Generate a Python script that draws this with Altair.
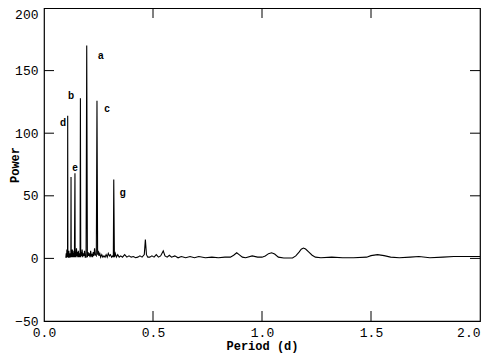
import altair as alt
import pandas as pd

period = [0.100, 0.102, 0.1035, 0.105, 0.1065, 0.1080, 0.1087, 0.1095, 0.1110, 0.1125,
          0.1140, 0.1155, 0.1170, 0.1185, 0.1200, 0.1232, 0.1240, 0.1248, 0.1265, 0.1280,
          0.1300, 0.1315, 0.1330, 0.1350, 0.1370, 0.1395, 0.1420, 0.1430, 0.1450, 0.1470,
          0.1490, 0.1510, 0.1530, 0.1550, 0.1575, 0.1600, 0.1625, 0.1655, 0.1670, 0.1685,
          0.1710, 0.1730, 0.1750, 0.1775, 0.1800, 0.1830, 0.1860, 0.1890, 0.1930, 0.1960,
          0.1990, 0.2020, 0.2050, 0.2080, 0.2110, 0.2140, 0.2170, 0.2200, 0.2230, 0.2260,
          0.2290, 0.2320, 0.2350, 0.2400, 0.2430, 0.2460, 0.2490, 0.2520, 0.2560, 0.2600,
          0.2650, 0.2700, 0.2750, 0.2800, 0.2850, 0.2900, 0.2950, 0.3000, 0.3050, 0.3100,
          0.3150, 0.3180, 0.3200, 0.3230, 0.3270, 0.3320, 0.3380, 0.3450, 0.3520, 0.3600,
          0.3700, 0.3800, 0.3900, 0.4000, 0.4100, 0.4200, 0.4300, 0.4400, 0.4500, 0.4600,
          0.4650, 0.4700, 0.4760, 0.4850, 0.4950, 0.5050, 0.5150, 0.5250, 0.5350, 0.5470,
          0.5550, 0.5650, 0.5750, 0.5850, 0.6000, 0.6150, 0.6300, 0.6500, 0.6700, 0.6900,
          0.7100, 0.7400, 0.7700, 0.8000, 0.8300, 0.8550, 0.8700, 0.8840, 0.8950, 0.9100,
          0.9250, 0.9550, 0.9800, 1.0000, 1.0150, 1.0300, 1.0440, 1.0580, 1.0750, 1.1000,
          1.1400, 1.1550, 1.1700, 1.1800, 1.1900, 1.2000, 1.2150, 1.2300, 1.2450, 1.2700,
          1.3200, 1.3700, 1.4200, 1.4800, 1.5000, 1.5300, 1.5600, 1.5900, 1.6300, 1.6800,
          1.7200, 1.7700, 1.8300, 1.8800, 1.9500, 2.0000]
power = [0.5, 4, 0.5, 7, 1, 2, 114, 1, 5, 0.5,
         6, 1, 3, 0.5, 4, 1, 65, 1, 5, 1,
         7, 1, 4, 1, 6, 1, 68, 1, 5, 1,
         8, 2, 5, 1, 6, 1, 4, 1, 128, 1,
         5, 2, 7, 1, 4, 2, 6, 1, 1, 170,
         1, 5, 2, 4, 1, 6, 2, 3, 1, 5,
         2, 8, 3, 2, 126, 3, 6, 2, 4, 1,
         3, 1, 2, 1, 3, 1, 4, 2, 3, 1,
         2, 1, 63, 1, 4, 1, 3, 1, 2, 1,
         3, 1, 2, 1, 1.5, 0.5, 1, 2, 1, 3,
         15, 3, 1, 1, 2, 1, 3, 1, 2, 6,
         2, 1, 2.5, 1, 2, 0.5, 1.5, 0.5, 1.5, 0.5,
         1.5, 0.5, 1, 0.5, 1, 1, 2.5, 4.5, 3, 1,
         0.5, 2, 1, 1, 2, 3.8, 4.5, 3.5, 1, 0.3,
         0.3, 2, 5, 7.3, 8.3, 7.5, 5, 2.5, 1, 0.5,
         1, 0.5, 0.5, 1, 2.2, 3, 2.2, 1, 0.5, 1,
         1.5, 0.5, 1, 1.5, 1.5, 1.5]

label_text = ["a", "b", "c", "d", "e", "g"]
label_period = [0.261, 0.124, 0.289, 0.087, 0.142, 0.362]
label_power = [162, 130, 119, 108, 72, 52]

x_tick_vals = [0.5, 1.0, 1.5]
y_tick_vals = [0, 50, 100, 150]
x_label_vals = [0.0, 0.5, 1.0, 1.5, 2.0]
y_label_vals = [-50, 0, 50, 100, 150, 200]

W, H = 436, 313
FONT = "Liberation Mono"

df = pd.DataFrame({"period": period, "power": power})
lab = pd.DataFrame({"t": label_text, "period": label_period, "power": label_power})
xt = pd.DataFrame({"period": x_tick_vals})
yt = pd.DataFrame({"power": y_tick_vals})

xs = alt.Scale(domain=[0, 2], nice=False, zero=False)
ys = alt.Scale(domain=[-50, 200], nice=False, zero=False)

x_axis = alt.Axis(values=x_label_vals, format=".1f", title="Period (d)",
                  ticks=False, grid=False, domain=False,
                  labelFont=FONT, labelFontSize=13, labelColor="black",
                  labelPadding=5, labelFlush=False,
                  labelAlign={"condition": {"test": "datum.value == 2", "value": "right"},
                              "value": "center"},
                  titleFont=FONT, titleFontSize=12, titleFontWeight="bold",
                  titleColor="black", titlePadding=1)
y_axis = alt.Axis(values=y_label_vals, format="d", title="Power",
                  ticks=False, grid=False, domain=False,
                  labelFont=FONT, labelFontSize=13, labelColor="black",
                  labelPadding=6, labelFlush=False,
                  labelBaseline={"condition": {"test": "datum.value == 200", "value": "top"},
                                 "value": "middle"},
                  titleFont=FONT, titleFontSize=12, titleFontWeight="bold",
                  titleColor="black", titleX=-30, titleY=H / 2,
                  titleAlign="center", titleBaseline="middle")

line = alt.Chart(df).mark_line(color="black", strokeWidth=1.1, clip=True).encode(
    x=alt.X("period:Q", scale=xs, axis=x_axis),
    y=alt.Y("power:Q", scale=ys, axis=y_axis),
)

labels = alt.Chart(lab).mark_text(font="Liberation Sans", fontSize=10, fontWeight="bold",
                                  color="black", align="center", baseline="middle").encode(
    x=alt.X("period:Q", scale=xs, axis=x_axis),
    y=alt.Y("power:Q", scale=ys, axis=y_axis),
    text="t:N",
)

tick_bottom = alt.Chart(xt).mark_rule(color="black", strokeWidth=1).encode(
    x=alt.X("period:Q", scale=xs, axis=x_axis), y=alt.value(H), y2=alt.value(H - 10))
tick_top = alt.Chart(xt).mark_rule(color="black", strokeWidth=1).encode(
    x=alt.X("period:Q", scale=xs, axis=x_axis), y=alt.value(0), y2=alt.value(10))
tick_left = alt.Chart(yt).mark_rule(color="black", strokeWidth=1).encode(
    y=alt.Y("power:Q", scale=ys, axis=y_axis), x=alt.value(0), x2=alt.value(10))
tick_right = alt.Chart(yt).mark_rule(color="black", strokeWidth=1).encode(
    y=alt.Y("power:Q", scale=ys, axis=y_axis), x=alt.value(W), x2=alt.value(W - 10))

chart = alt.layer(line, labels, tick_bottom, tick_top, tick_left, tick_right).properties(
    width=W, height=H,
    autosize=alt.AutoSizeParams(type="none"),
    padding={"left": 36, "top": 0, "right": 2, "bottom": 33},
    background="white",
).configure_view(stroke="black", strokeWidth=1.2)

chart.save("out.html", embed_options={"renderer": "svg", "actions": False})
